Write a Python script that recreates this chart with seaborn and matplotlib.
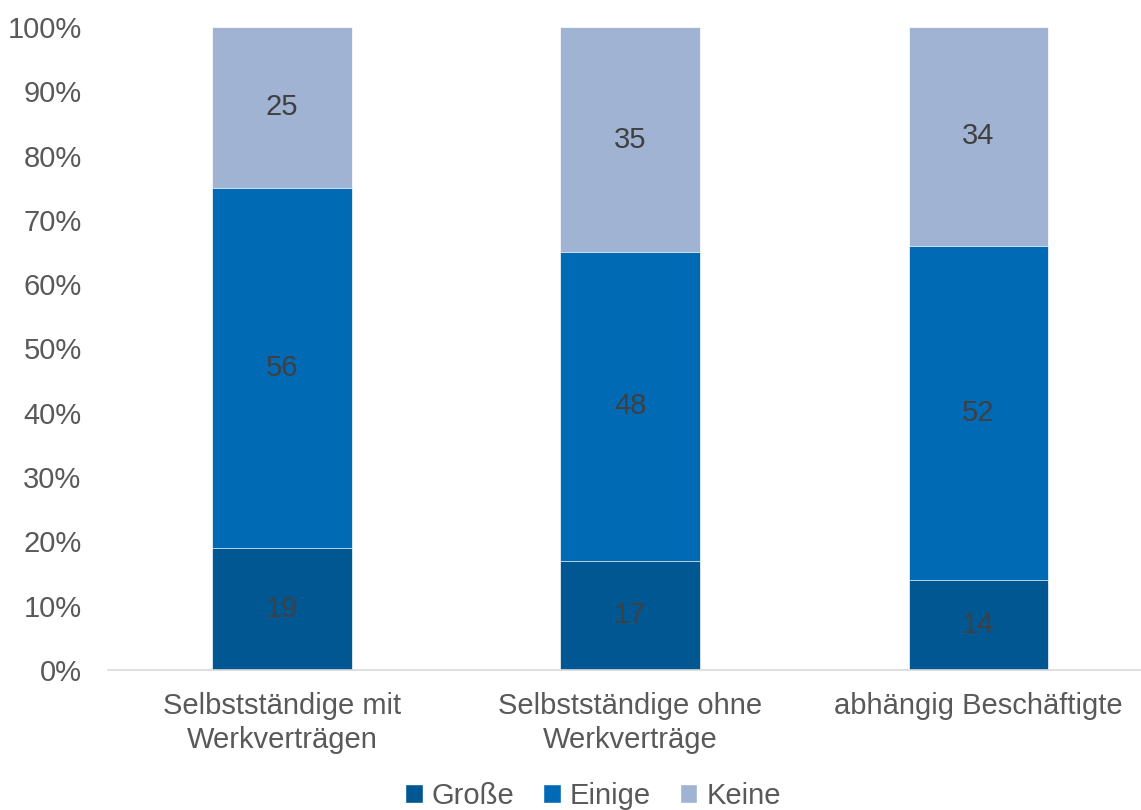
import numpy as np
import pandas as pd
import matplotlib
matplotlib.use('Agg')
import matplotlib.pyplot as plt
import seaborn as sns
from matplotlib.patches import Patch
from matplotlib.ticker import PercentFormatter

categories = ['Selbstständige mit\nWerkverträgen', 'Selbstständige ohne\nWerkverträge', 'abhängig Beschäftigte']
grosse = [19, 17, 14]
einige = [56, 48, 52]
keine = [25, 35, 34]
series_names = ['Große', 'Einige', 'Keine']
colors = ['#005792', '#016AB4', '#A0B3D3']

sns.set_theme(style='white')
plt.rcParams['font.family'] = ['Liberation Sans', 'DejaVu Sans']

totals = np.array(grosse) + np.array(einige) + np.array(keine)
shares = [np.array(s) / totals for s in (grosse, einige, keine)]
cum = np.cumsum(shares, axis=0)

df = pd.DataFrame({'cat': categories})
for name, c in zip(series_names, cum):
    df[name] = c

fig = plt.figure(figsize=(11.41, 8.10), dpi=100)
ax = fig.add_axes([108 / 1141, 140 / 810, 1033 / 1141, 643 / 810])

# draw cumulative bars from the top segment down
for name, color in zip(series_names[::-1], colors[::-1]):
    sns.barplot(data=df, x='cat', y=name, color=color, width=0.4,
                saturation=1, ax=ax, edgecolor='#ffffff', linewidth=0.5)

for i in range(len(categories)):
    vals = [grosse[i], einige[i], keine[i]]
    for k, v in enumerate(vals):
        lo = cum[k - 1][i] if k > 0 else 0
        mid = (lo + cum[k][i]) / 2
        ax.text(i, mid, f'{v}', ha='center', va='center', fontsize=21, color='#404040')

ax.set_ylim(0, 1)
ax.set_xlim(-0.5, 2.468)
ax.yaxis.set_major_locator(plt.MultipleLocator(0.1))
ax.yaxis.set_major_formatter(PercentFormatter(1.0, decimals=0))
ax.set_xlabel('')
ax.set_ylabel('')
ax.tick_params(axis='both', labelsize=21, colors='#595959', length=0)
ax.tick_params(axis='y', pad=19)
ax.tick_params(axis='x', pad=16)
for lbl in ax.get_xticklabels():
    lbl.set_linespacing(1.25)
for side in ['top', 'right', 'left']:
    ax.spines[side].set_visible(False)
ax.spines['bottom'].set_color('#d9d9d9')
ax.spines['bottom'].set_linewidth(1.2)

handles = [Patch(facecolor=c, label=n) for n, c in zip(series_names, colors)]
fig.legend(handles=handles, loc='center', bbox_to_anchor=(593 / 1141, 1 - 796 / 810),
           ncol=3, frameon=False, fontsize=21, handlelength=0.6, handleheight=0.6,
           handletextpad=0.3, columnspacing=1.0, labelcolor='#595959')

fig.savefig('out.png', dpi=100)
